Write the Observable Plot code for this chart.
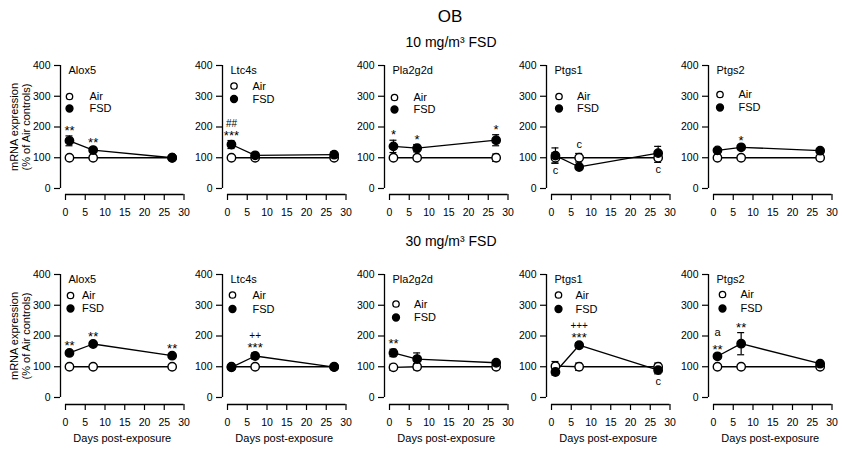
<!DOCTYPE html>
<html><head><meta charset="utf-8">
<script src="https://cdn.jsdelivr.net/npm/d3@7"></script>
<script src="https://cdn.jsdelivr.net/npm/@observablehq/plot@0.6"></script>
<style>
body{margin:0;background:#fff;}
#fig{position:relative;width:842px;height:450px;font-family:"Liberation Sans",Arial,sans-serif;color:#000;overflow:hidden;background:#fff}
.t{position:absolute;white-space:nowrap;transform:translate(-50%,-50%);}
.ytitle{position:absolute;transform:translate(-50%,-50%) rotate(-90deg);text-align:center;font-size:11px;line-height:12px;white-space:nowrap}
.panel{position:absolute}
.panel svg{overflow:visible}
</style></head><body><div id="fig"></div>
<script>
// ---------- data ----------
const days = [1, 7, 27];
const genes = ["Alox5", "Ltc4s", "Pla2g2d", "Ptgs1", "Ptgs2"];
const xTicks = [0, 5, 10, 15, 20, 25, 30];
const yTicks = [0, 100, 200, 300, 400];
const doseTitles = ["10 mg/m³ FSD", "30 mg/m³ FSD"];
const seriesNames = ["Air", "FSD"];

// 10 mg/m3 FSD (rows: genes, cols: days)
const air10Mean = [[100,100,100],[100,100,100],[100,100,100],[100,100,100],[100,100,100]];
const air10Err  = [[3,3,4],[3,3,3],[5,4,12],[17,14,15],[3,3,7]];
const fsd10Mean = [[155,125,100],[143,108,110],[137,131,157],[107,70,115],[124,134,123]];
const fsd10Err  = [[16,6,6],[13,5,9],[20,12,18],[25,5,22],[4,5,4]];

// 30 mg/m3 FSD
const air30Mean = [[100,100,100],[100,100,100],[98,100,100],[102,100,100],[100,100,100]];
const air30Err  = [[3,3,5],[3,3,3],[10,10,8],[15,12,12],[3,3,3]];
const fsd30Mean = [[145,174,136],[98,135,99],[145,125,113],[83,170,89],[134,175,110]];
const fsd30Err  = [[6,5,5],[5,10,5],[12,20,6],[10,8,12],[5,36,5]];

// significance marks: [gene, day, text, level, side]
const marks10 = [
  ["Alox5",1,"**",0,"above"],["Alox5",7,"**",0,"above"],
  ["Ltc4s",1,"***",0,"above"],["Ltc4s",1,"##",1,"above"],
  ["Pla2g2d",1,"*",0,"above"],["Pla2g2d",7,"*",0,"above"],["Pla2g2d",27,"*",0,"above"],
  ["Ptgs1",1,"c",0,"below"],["Ptgs1",7,"c",0,"above"],["Ptgs1",27,"c",0,"below"],
  ["Ptgs2",7,"*",0,"above"]
];
const marks30 = [
  ["Alox5",1,"**",0,"above"],["Alox5",7,"**",0,"above"],["Alox5",27,"**",0,"above"],
  ["Ltc4s",7,"***",0,"above"],["Ltc4s",7,"++",1,"above"],
  ["Pla2g2d",1,"**",0,"above"],
  ["Ptgs1",7,"***",0,"above"],["Ptgs1",7,"+++",1,"above"],["Ptgs1",27,"c",0,"below"],
  ["Ptgs2",1,"**",0,"above"],["Ptgs2",1,"a",1,"above"],["Ptgs2",7,"**",0,"above"]
];

// ---------- layout ----------
const FONT = '"Liberation Sans", Arial, sans-serif';
const rows = [
  {top: 55, height: 175, mb: 36, inset: 6, titleY: 42, xlabel: false,
   airM: air10Mean, airE: air10Err, fsdM: fsd10Mean, fsdE: fsd10Err, sig: marks10,
   leg: [{c:9,t:29,a:31,f:43},{c:11.5,t:30,a:20.5,f:33.5},{c:10,t:29,a:32,f:44},{c:12.5,t:30.5,a:31,f:43},{c:11.5,t:30,a:29,f:42}]},
  {top: 264, height: 186, mb: 46, inset: 7, titleY: 241, xlabel: true,
   airM: air30Mean, airE: air30Err, fsdM: fsd30Mean, fsdE: fsd30Err, sig: marks30,
   leg: [{c:10,t:21.5,a:21,f:34},{c:10,t:30,a:20.5,f:34.5},{c:11.5,t:29.5,a:29.5,f:43},{c:12,t:29,a:20.5,f:34.5},{c:14,t:32,a:20,f:34}]}
];
const fig = document.getElementById("fig");

function addText(txt, x, y, size, cls = "t") {
  const d = document.createElement("div");
  d.className = cls;
  d.style.left = x + "px"; d.style.top = y + "px";
  if (size) d.style.fontSize = size + "px";
  d.innerHTML = txt;
  fig.appendChild(d);
}
addText("OB", 450, 17, 17);

function errMarks(s) {
  return [
    Plot.ruleX(s, {x: "day", y1: d => d.mean - d.err, y2: d => d.mean + d.err, strokeWidth: 1.2}),
    Plot.ruleY(s, {x1: "day", x2: "day", y: d => d.mean + d.err, insetLeft: -3.5, insetRight: -3.5, strokeWidth: 1.2}),
    Plot.ruleY(s, {x1: "day", x2: "day", y: d => d.mean - d.err, insetLeft: -3.5, insetRight: -3.5, strokeWidth: 1.2})
  ];
}

function panel(gi, ri) {
  const R = rows[ri];
  const gene = genes[gi];
  const air = days.map((d, j) => ({day: d, mean: R.airM[gi][j], err: R.airE[gi][j]}));
  const fsd = days.map((d, j) => ({day: d, mean: R.fsdM[gi][j], err: R.fsdE[gi][j]}));
  const L = R.leg[gi];
  const sigMarks = R.sig.filter(m => m[0] === gene).map(([g, day, label, level, side]) => {
    const j = days.indexOf(day);
    const vals = side === "above"
      ? Math.max(air[j].mean + air[j].err, fsd[j].mean + fsd[j].err)
      : Math.min(air[j].mean - air[j].err, fsd[j].mean - fsd[j].err);
    const isStar = label[0] === "*";
    const isLetter = /[a-z]/.test(label);
    const size = isStar ? 13 : isLetter ? 11 : 10;
    let dy;
    if (side === "below") dy = 3;
    else dy = -(1 + (isLetter ? 4 : 0) + level * 13 + (level && isLetter ? 1 : 0));
    return Plot.text([{day, v: vals, label}], {
      x: "day", y: "v", text: "label", dy, fontSize: size,
      lineAnchor: side === "above" ? "bottom" : "top", textAnchor: "middle", fill: "black"
    });
  });
  const marks = [
    Plot.ruleX([0], {y1: 0, y2: 400, dx: -5, strokeWidth: 1.3}),
    Plot.ruleY([0], {x1: 0, x2: 30, dy: R.inset, strokeWidth: 1.3}),
    Plot.axisY({ticks: yTicks, tickSize: 6, tickPadding: 4, label: null, strokeWidth: 1.2, fontSize: 10.5}),
    Plot.axisX({ticks: xTicks, tickSize: 6, tickPadding: 8, label: null, strokeWidth: 1.2, fontSize: 10.5}),
    ...errMarks(air), ...errMarks(fsd),
    Plot.line(air, {x: "day", y: "mean", stroke: "black", strokeWidth: 1.3}),
    Plot.line(fsd, {x: "day", y: "mean", stroke: "black", strokeWidth: 1.3}),
    Plot.dot(air, {x: "day", y: "mean", r: 4.2, fill: "white", stroke: "black", strokeWidth: 1.4}),
    Plot.dot(fsd, {x: "day", y: "mean", r: 4.2, fill: "black", stroke: "black", strokeWidth: 1.4}),
    ...sigMarks,
    Plot.text([gene], {frameAnchor: "top-left", dx: 8, dy: 5, textAnchor: "start", lineAnchor: "middle", fontSize: 11}),
    Plot.dot([seriesNames[0]], {frameAnchor: "top-left", dx: L.c, dy: L.a, r: 3.2, fill: "white", stroke: "black", strokeWidth: 1.3}),
    Plot.dot([seriesNames[1]], {frameAnchor: "top-left", dx: L.c, dy: L.f, r: 3.4, fill: "black", stroke: "black"}),
    Plot.text([seriesNames[0]], {frameAnchor: "top-left", dx: L.t, dy: L.a, textAnchor: "start", lineAnchor: "middle", fontSize: 11}),
    Plot.text([seriesNames[1]], {frameAnchor: "top-left", dx: L.t, dy: L.f, textAnchor: "start", lineAnchor: "middle", fontSize: 11})
  ];
  if (R.xlabel) marks.push(Plot.text(["Days post-exposure"], {frameAnchor: "bottom", dy: 34, lineAnchor: "middle", fontSize: 11}));
  return Plot.plot({
    width: 170, height: R.height,
    marginLeft: 40, marginRight: 6.5, marginTop: 10, marginBottom: R.mb,
    x: {domain: [0, 30], insetLeft: 5},
    y: {domain: [0, 400], insetBottom: R.inset},
    style: {fontFamily: FONT, fontSize: "10.5px", background: "transparent", color: "black", overflow: "visible"},
    marks
  });
}

rows.forEach((R, ri) => {
  addText(doseTitles[ri], 451, R.titleY, 14);
  const yMid = R.top + 10 + 61.5;
  addText("mRNA expression<br>(% of Air controls)", 19.5, yMid, null, "ytitle");
  genes.forEach((g, gi) => {
    const axisX = 59.5 + 162 * gi;
    const wrap = document.createElement("div");
    wrap.className = "panel";
    wrap.style.left = (axisX - 40) + "px";
    wrap.style.top = R.top + "px";
    wrap.appendChild(panel(gi, ri));
    fig.appendChild(wrap);
  });
});
</script></body></html>
